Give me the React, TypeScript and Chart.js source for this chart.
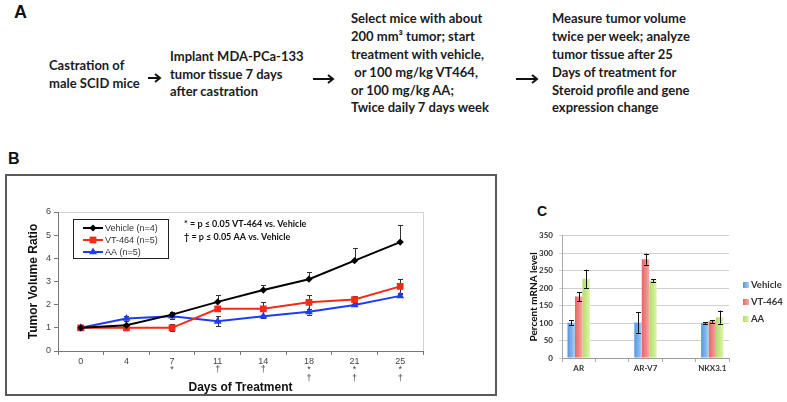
import React, { useEffect, useRef } from "react";
import { Chart, registerables } from "chart.js";

Chart.register(...registerables);

// ---------- Panel B data ----------
const dayLabels = ["0", "4", "7", "11", "14", "18", "21", "25"];
const vt464Sig = ["", "", "*", "", "", "*", "*", "*"];
const aaSig = ["", "", "", "†", "†", "†", "†", "†"];

const vehicleRatio = [1.0, 1.11, 1.57, 2.12, 2.63, 3.1, 3.9, 4.7];
const vehicleRatioErr = [0, 0.05, 0.12, 0.28, 0.2, 0.3, 0.55, 0.74];
const vt464Ratio = [1.0, 1.0, 1.0, 1.82, 1.82, 2.1, 2.22, 2.79];
const vt464RatioErr = [0.03, 0.03, 0.15, 0.05, 0.28, 0.3, 0.15, 0.3];
const aaRatio = [1.0, 1.4, 1.5, 1.28, 1.5, 1.69, 1.99, 2.38];
const aaRatioErr = [0.03, 0.12, 0.1, 0.22, 0.06, 0.12, 0.06, 0.06];

// ---------- Panel C data ----------
const genes = ["AR", "", "AR-V7", "", "NKX3.1"];
const vehicleMrna = [101, null, 102, null, 100];
const vehicleMrnaErr = [7, null, 30, null, 3];
const vt464Mrna = [176, null, 283, null, 105];
const vt464MrnaErr = [13, null, 16, null, 4];
const aaMrna = [227, null, 222, null, 117];
const aaMrnaErr = [26, null, 4, null, 19];

const ARIAL = "'Liberation Sans', Arial, sans-serif";
const CALIBRI = "Lato, 'Open Sans', sans-serif";

function makeErrorBarPlugin(id: string, before: boolean, capHalf: number) {
  const draw = (chart: any) => {
    const { ctx } = chart;
    const ys = chart.scales.y;
    chart.data.datasets.forEach((ds: any, di: number) => {
      const up: any[] = ds.errUp;
      const down: any[] = ds.errDown;
      if (!up) return;
      const meta = chart.getDatasetMeta(di);
      meta.data.forEach((el: any, i: number) => {
        const v = ds.data[i];
        if (v == null) return;
        const u = up[i] || 0;
        const d = down ? down[i] || 0 : 0;
        if (!u && !d) return;
        const x = Math.round(el.x) + 0.5;
        const yTop = ys.getPixelForValue(v + u);
        const yBot = ys.getPixelForValue(v - d);
        ctx.save();
        ctx.strokeStyle = ds.errColor || "#222";
        ctx.lineWidth = 1;
        ctx.beginPath();
        ctx.moveTo(x, yTop);
        ctx.lineTo(x, yBot);
        if (u) {
          ctx.moveTo(x - capHalf, Math.round(yTop) + 0.5);
          ctx.lineTo(x + capHalf, Math.round(yTop) + 0.5);
        }
        if (d) {
          ctx.moveTo(x - capHalf, Math.round(yBot) + 0.5);
          ctx.lineTo(x + capHalf, Math.round(yBot) + 0.5);
        }
        ctx.stroke();
        ctx.restore();
      });
    });
  };
  return before
    ? { id, beforeDatasetsDraw: draw }
    : { id, afterDatasetsDraw: draw };
}

function drawMarker(ctx: CanvasRenderingContext2D, style: string, x: number, y: number, r: number, color: string) {
  ctx.save();
  ctx.fillStyle = color;
  ctx.beginPath();
  if (style === "rectRot") {
    ctx.moveTo(x, y - r);
    ctx.lineTo(x + r, y);
    ctx.lineTo(x, y + r);
    ctx.lineTo(x - r, y);
  } else if (style === "rect") {
    const s = r * Math.SQRT1_2;
    ctx.rect(x - s, y - s, 2 * s, 2 * s);
  } else {
    let a = 0;
    ctx.moveTo(x + Math.sin(a) * r, y - Math.cos(a) * r);
    a += (2 * Math.PI) / 3;
    ctx.lineTo(x + Math.sin(a) * r, y - Math.cos(a) * r);
    a += (2 * Math.PI) / 3;
    ctx.lineTo(x + Math.sin(a) * r, y - Math.cos(a) * r);
  }
  ctx.closePath();
  ctx.fill();
  ctx.restore();
}

const plotBorderPlugin = {
  id: "plotBorder",
  beforeDraw(chart: any) {
    const { ctx, chartArea: a } = chart;
    ctx.save();
    ctx.strokeStyle = "#d2d2d2";
    ctx.lineWidth = 1;
    ctx.strokeRect(Math.round(a.left) + 0.5, Math.round(a.top) + 0.5, Math.round(a.right - a.left), Math.round(a.bottom - a.top));
    ctx.restore();
  },
};

const legendBPlugin = {
  id: "legendB",
  afterDraw(chart: any) {
    const { ctx, chartArea: a } = chart;
    const L = Math.round(a.left);
    const T = Math.round(a.top);
    ctx.save();
    ctx.strokeStyle = "#222";
    ctx.lineWidth = 1;
    ctx.strokeRect(L + 15.5, T + 7.5, 95, 39);
    const rows = [16, 28, 40];
    chart.data.datasets.forEach((ds: any, i: number) => {
      const y = T + rows[i];
      ctx.strokeStyle = ds.borderColor;
      ctx.lineWidth = 2;
      ctx.beginPath();
      ctx.moveTo(L + 25, y);
      ctx.lineTo(L + 45, y);
      ctx.stroke();
      drawMarker(ctx, ds.pointStyle, L + 35, y, ds.pointRadius, ds.borderColor);
      ctx.fillStyle = "#333";
      ctx.font = `9px ${ARIAL}`;
      ctx.textBaseline = "middle";
      ctx.textAlign = "left";
      ctx.fillText(ds.label, L + 47, y + 0.5);
    });
    ctx.fillStyle = "#111";
    ctx.font = `700 9px ${CALIBRI}`;
    ctx.fillText("* = p ≤ 0.05 VT-464 vs. Vehicle", L + 126, T + 12);
    ctx.fillText("† = p ≤ 0.05 AA vs. Vehicle", L + 126, T + 25);
    ctx.restore();
  },
};

function barGradient(dark: string, light: string, mid: string) {
  return (c: any) => {
    const el = c.element;
    if (!el || !isFinite(el.x) || !el.width) return mid;
    const g = c.chart.ctx.createLinearGradient(el.x - el.width / 2, 0, el.x + el.width / 2, 0);
    g.addColorStop(0, dark);
    g.addColorStop(0.55, mid);
    g.addColorStop(1, light);
    return g;
  };
}

const BLUE = ["#5596e2", "#a9cdf4", "#7fb2ec"];
const RED = ["#e76463", "#f7a9a6", "#ef8784"];
const GREEN = ["#b3dd66", "#def4b2", "#c9eb8a"];

function Arrow({ x1, x2, y }: { x1: number; x2: number; y: number }) {
  return (
    <svg style={{ position: "absolute", left: 0, top: 0, overflow: "visible" }} width={1} height={1}>
      <line x1={x1} y1={y} x2={x2 - 1} y2={y} stroke="#111" strokeWidth={2} />
      <polyline points={`${x2 - 5},${y - 4} ${x2},${y} ${x2 - 5},${y + 4}`} fill="none" stroke="#111" strokeWidth={2} />
    </svg>
  );
}

const textStyle: React.CSSProperties = {
  position: "absolute",
  fontFamily: CALIBRI,
  fontWeight: 700,
  fontSize: 13,
  lineHeight: "17.8px",
  color: "#1c1c1c",
  whiteSpace: "pre",
  margin: 0,
};

export default function App() {
  const bRef = useRef<HTMLCanvasElement>(null);
  const cRef = useRef<HTMLCanvasElement>(null);

  useEffect(() => {
    document.body.style.margin = "0";
    const tickLabels = dayLabels.map((d, i) => {
      const arr = [d];
      if (vt464Sig[i]) arr.push(vt464Sig[i]);
      if (aaSig[i]) arr.push(aaSig[i]);
      return arr;
    });

    const chartB = new Chart(bRef.current as HTMLCanvasElement, {
      type: "line",
      data: {
        labels: tickLabels as any,
        datasets: [
          {
            label: "Vehicle (n=4)",
            data: vehicleRatio,
            borderColor: "#000000",
            backgroundColor: "#000000",
            pointStyle: "rectRot",
            pointRadius: 3.6,
            pointBorderWidth: 0,
            borderWidth: 2,
            tension: 0,
            errUp: vehicleRatioErr,
            errColor: "#333",
          } as any,
          {
            label: "VT-464 (n=5)",
            data: vt464Ratio,
            borderColor: "#f52a18",
            backgroundColor: "#f52a18",
            pointStyle: "rect",
            pointRadius: 4.8,
            pointBorderWidth: 0,
            borderWidth: 2,
            tension: 0,
            errUp: vt464RatioErr,
            errDown: vt464RatioErr,
            errColor: "#333",
          } as any,
          {
            label: "AA (n=5)",
            data: aaRatio,
            borderColor: "#1f3cf5",
            backgroundColor: "#1f3cf5",
            pointStyle: "triangle",
            pointRadius: 4.6,
            pointBorderWidth: 0,
            borderWidth: 2,
            tension: 0,
            errUp: aaRatioErr,
            errDown: aaRatioErr,
            errColor: "#333",
          } as any,
        ],
      },
      options: {
        responsive: false,
        animation: false,
        events: [],
        layout: { padding: { left: 16, top: 37, right: 73, bottom: 1 } },
        plugins: { legend: { display: false }, tooltip: { enabled: false } },
        scales: {
          x: {
            type: "category",
            offset: true,
            grid: { offset: true, drawOnChartArea: false, drawTicks: true, tickLength: 4, color: "#777" },
            border: { color: "#777", width: 1 },
            ticks: {
              font: { family: ARIAL, size: 9, lineHeight: 0.95 },
              color: "#444",
              padding: 2,
              maxRotation: 0,
              autoSkip: false,
            },
            title: {
              display: true,
              text: "Days of Treatment",
              font: { family: ARIAL, size: 12, weight: "bold" },
              color: "#111",
              padding: { top: 0, bottom: 0 },
            },
            afterFit: (s: any) => {
              s.height = 44;
            },
          },
          y: {
            min: 0,
            max: 6,
            ticks: { stepSize: 1, font: { family: ARIAL, size: 9 }, color: "#444", padding: 3 },
            grid: { drawOnChartArea: false, drawTicks: true, tickLength: 4, color: "#777" },
            border: { color: "#777", width: 1 },
            title: {
              display: true,
              text: "Tumor Volume Ratio",
              font: { family: ARIAL, size: 12, weight: "bold" },
              color: "#111",
              padding: { top: 4, bottom: 0 },
            },
            afterFit: (s: any) => {
              s.width = 36;
            },
          },
        },
      } as any,
      plugins: [plotBorderPlugin, makeErrorBarPlugin("errB", true, 2.5), legendBPlugin],
    });

    const chartC = new Chart(cRef.current as HTMLCanvasElement, {
      type: "bar",
      data: {
        labels: genes,
        datasets: [
          {
            label: "Vehicle",
            data: vehicleMrna,
            backgroundColor: barGradient(BLUE[0], BLUE[1], BLUE[2]),
            errUp: vehicleMrnaErr,
            errDown: vehicleMrnaErr,
            errColor: "#111",
          } as any,
          {
            label: "VT-464",
            data: vt464Mrna,
            backgroundColor: barGradient(RED[0], RED[1], RED[2]),
            errUp: vt464MrnaErr,
            errDown: vt464MrnaErr,
            errColor: "#111",
          } as any,
          {
            label: "AA",
            data: aaMrna,
            backgroundColor: barGradient(GREEN[0], GREEN[1], GREEN[2]),
            errUp: aaMrnaErr,
            errDown: aaMrnaErr,
            errColor: "#111",
          } as any,
        ],
      },
      options: {
        responsive: false,
        animation: false,
        events: [],
        categoryPercentage: 0.67,
        barPercentage: 1.0,
        layout: { padding: { left: 0, top: 9, right: 58, bottom: 0 } },
        plugins: { legend: { display: false }, tooltip: { enabled: false } },
        scales: {
          x: {
            offset: true,
            grid: { offset: true, drawOnChartArea: false, drawTicks: true, tickLength: 4, color: "#aaa" },
            border: { color: "#999", width: 1 },
            ticks: {
              font: { family: CALIBRI, size: 8, weight: "bold" },
              color: "#333",
              padding: 2,
              maxRotation: 0,
              autoSkip: false,
            },
            afterFit: (s: any) => {
              s.height = 17;
            },
          },
          y: {
            min: 0,
            max: 350,
            ticks: { stepSize: 50, font: { family: CALIBRI, size: 8, weight: "bold" }, color: "#333", padding: 6 },
            grid: { color: "#d0d0d0", tickLength: 3 },
            border: { color: "#aaa", width: 1 },
            title: {
              display: true,
              text: "Percent mRNA level",
              font: { family: CALIBRI, size: 10, weight: "bold" },
              color: "#111",
              padding: { top: 2, bottom: 0 },
            },
            afterFit: (s: any) => {
              s.width = 36;
            },
          },
        },
      } as any,
      plugins: [makeErrorBarPlugin("errC", false, 2.5)],
    });
    chartC.update();

    return () => {
      chartB.destroy();
      chartC.destroy();
    };
  }, []);

  const legendC = [
    { label: "Vehicle", color: BLUE, top: 285 },
    { label: "VT-464", color: RED, top: 302 },
    { label: "AA", color: GREEN, top: 319 },
  ];

  return (
    <div style={{ position: "absolute", left: 0, top: 0, width: 787, height: 402, overflow: "hidden", background: "#fff" }}>
      {/* Panel labels */}
      <div style={{ position: "absolute", left: 14, top: 2.7, fontFamily: ARIAL, fontWeight: 700, fontSize: 18, lineHeight: "18px", color: "#111" }}>A</div>
      <div style={{ position: "absolute", left: 8, top: 151, fontFamily: ARIAL, fontWeight: 700, fontSize: 16, lineHeight: "16px", color: "#111" }}>B</div>
      <div style={{ position: "absolute", left: 537, top: 204, fontFamily: ARIAL, fontWeight: 700, fontSize: 14, lineHeight: "14px", color: "#111" }}>C</div>

      {/* Panel A flow */}
      <div style={{ ...textStyle, left: 49, top: 56.8 }}>{"Castration of\nmale SCID mice"}</div>
      <div style={{ ...textStyle, left: 170, top: 47.8 }}>{"Implant MDA-PCa-133\ntumor tissue 7 days\nafter castration"}</div>
      <div style={{ ...textStyle, left: 351, top: 10.4 }}>
        {"Select mice with about\n200 mm³ tumor; start\ntreatment with vehicle,\n or 100 mg/kg VT464,\nor 100 mg/kg AA;\nTwice daily 7 days week"}
      </div>
      <div style={{ ...textStyle, left: 552, top: 10.4 }}>
        {"Measure tumor volume\ntwice per week; analyze\ntumor tissue after 25\nDays of treatment for\nSteroid profile and gene\nexpression change"}
      </div>
      <Arrow x1={148} x2={160} y={78} />
      <Arrow x1={313} x2={333} y={79} />
      <Arrow x1={516} x2={537} y={79} />

      {/* Panel B */}
      <div style={{ position: "absolute", left: 5, top: 174, width: 492, height: 222, boxSizing: "border-box", border: "2px solid #5a5a5a" }} />
      <canvas ref={bRef} width={490} height={221} style={{ position: "absolute", left: 6, top: 175 }} />

      {/* Panel C */}
      <canvas ref={cRef} width={261} height={150} style={{ position: "absolute", left: 526, top: 225 }} />
      {legendC.map((l) => (
        <div key={l.label}>
          <div
            style={{
              position: "absolute",
              left: 743,
              top: l.top - 3,
              width: 6,
              height: 6,
              background: `linear-gradient(to right, ${l.color[0]}, ${l.color[1]})`,
            }}
          />
          <div
            style={{
              position: "absolute",
              left: 751,
              top: l.top - 6,
              fontFamily: CALIBRI,
              fontWeight: 700,
              fontSize: 9.5,
              lineHeight: "12px",
              color: "#333",
              whiteSpace: "nowrap",
            }}
          >
            {l.label}
          </div>
        </div>
      ))}
    </div>
  );
}
